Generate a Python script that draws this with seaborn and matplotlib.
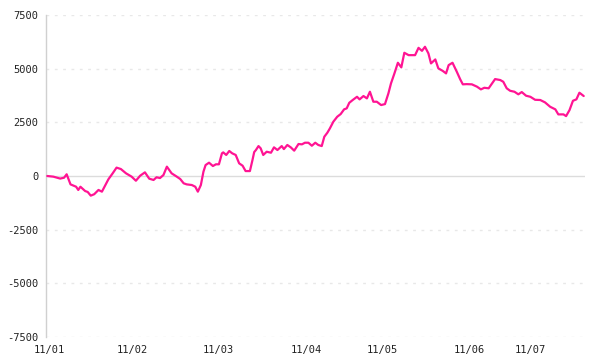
import matplotlib
matplotlib.use("Agg")
import matplotlib.pyplot as plt
import seaborn as sns
import pandas as pd

# trading-day position and cumulative value
day = [0.3, 1.7, 3.3, 4.2, 4.8, 5.7, 7.0, 7.5, 8.0, 9.1, 9.7, 10.4, 11.2, 12.2, 13.0,
       14.5, 15.5, 16.4, 17.4, 18.6, 19.9, 20.9, 21.9, 23.0, 24.0, 25.0, 25.7, 26.5,
       27.3, 28.1, 29.2, 30.4, 31.2, 32.0, 32.7, 33.9, 34.7, 35.3, 36.0, 36.6, 37.1,
       37.9, 38.8, 39.5, 40.2, 40.9, 41.2, 41.9, 42.6, 43.3, 44.1, 44.9, 45.7, 46.4,
       47.4, 48.0, 48.4, 48.8, 49.4, 49.9, 50.5, 51.3, 52.3, 53.0, 53.8, 54.8, 55.3,
       56.1, 56.9, 57.7, 58.7, 59.5, 60.2, 61.0, 61.8, 62.6, 63.3, 64.1, 64.7, 65.4,
       66.0, 66.8, 67.7, 68.5, 69.3, 69.9, 70.5, 71.3, 72.3, 72.9, 73.8, 74.6, 75.3,
       76.1, 76.9, 77.9, 78.8, 79.6, 80.2, 81.0, 81.8, 82.6, 83.3, 84.3, 85.8, 86.6,
       87.4, 88.1, 88.9, 89.5, 90.5, 91.2, 92.2, 93.0, 93.6, 94.5, 95.5, 96.3, 96.9,
       97.8, 99.0, 100.2, 101.1, 101.9, 102.9, 103.7, 104.4, 105.6, 106.3, 107.1,
       107.9, 108.9, 109.8, 110.6, 111.6, 112.6, 113.7, 114.9, 116.0, 117.2, 118.4,
       119.1, 120.3, 120.9, 121.7, 122.5, 123.3, 124.0, 125.0]
value = [0, -30, -120, -80, 80, -390, -500, -650, -500, -700, -745, -915, -850, -650,
         -730, -155, 125, 390, 325, 125, -30, -220, 15, 170, -125, -185, -60, -95, 45,
         435, 125, -30, -140, -340, -390, -420, -500, -730, -420, 200, 510, 620, 465,
         545, 545, 1055, 1100, 980, 1165, 1055, 980, 590, 480, 230, 230, 745, 1115,
         1210, 1395, 1290, 980, 1130, 1085, 1335, 1210, 1395, 1255, 1445, 1335, 1180,
         1490, 1475, 1550, 1550, 1410, 1550, 1445, 1395, 1830, 2015, 2220, 2530, 2760,
         2885, 3105, 3150, 3410, 3540, 3690, 3570, 3725, 3615, 3925, 3460, 3460, 3305,
         3350, 3850, 4315, 4780, 5275, 5060, 5740, 5630, 5630, 5970, 5830, 6020, 5710,
         5245, 5430, 5015, 4900, 4780, 5165, 5275, 4855, 4500, 4270, 4280, 4270, 4160,
         4035, 4110, 4085, 4315, 4515, 4470, 4390, 4085, 3970, 3925, 3805, 3910, 3740,
         3690, 3550, 3540, 3430, 3225, 3105, 2870, 2870, 2790, 3070, 3505, 3570, 3880,
         3725]

tick_days = [0.8, 20.1, 40.1, 60.6, 78.3, 98.4, 112.7]
tick_labels = ["11/01", "11/02", "11/03", "11/04", "11/05", "11/06", "11/07"]
y_ticks = [-7500, -5000, -2500, 0, 2500, 5000, 7500]

df = pd.DataFrame({"day": day, "value": value})

sns.set_style("white")
plt.rcParams["font.family"] = ["DejaVu Sans Mono", "DejaVu Sans"]

fig = plt.figure(figsize=(6, 3.6), dpi=100)
ax = fig.add_axes([46 / 600, 1 - 337 / 360, (585 - 46) / 600, (337 - 15) / 360])

for yt in y_ticks:
    if yt == 0:
        ax.axhline(yt, color="#dcdcdc", lw=1.0, zorder=1)
    else:
        ax.axhline(yt, color="#e8e8e8", lw=1.0, ls=(0, (2, 4)), zorder=1)

sns.lineplot(data=df, x="day", y="value", ax=ax, color="#ff1493", lw=1.6,
             zorder=3, estimator=None, sort=False)

ax.set_xlim(0, 125.3)
ax.set_ylim(-7500, 7500)
ax.set_yticks(y_ticks)
ax.set_yticklabels([str(v) for v in y_ticks])
ax.set_xticks(tick_days)
ax.set_xticklabels(tick_labels)
ax.set_xlabel("")
ax.set_ylabel("")

for s in ["top", "right", "bottom"]:
    ax.spines[s].set_visible(False)
ax.spines["left"].set_color("#d0d0d0")
ax.spines["left"].set_linewidth(1.0)

ax.tick_params(axis="y", direction="inout", length=6.5, width=1.0, color="black",
               labelsize=7.5, labelcolor="#222222", pad=2)
ax.tick_params(axis="x", length=0, labelsize=7.5, labelcolor="#222222", pad=6)

fig.savefig("out.png", dpi=100, facecolor="white")
